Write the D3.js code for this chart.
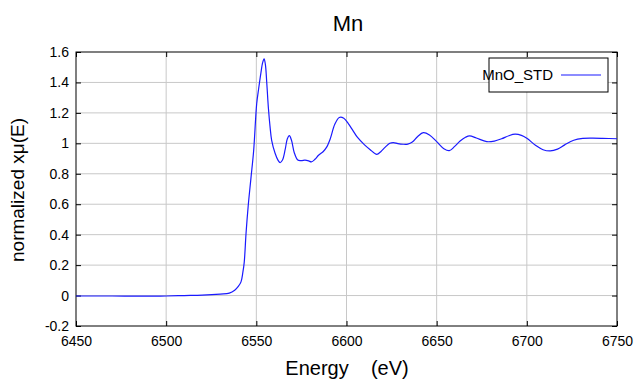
<html>
<head>
<meta charset="utf-8">
<script src="https://d3js.org/d3.v7.min.js"></script>
<style>
  body { margin: 0; background: #fff; }
  text { font-family: "Liberation Sans", Arial, sans-serif; fill: #000; }
</style>
</head>
<body>
<svg width="640" height="384"></svg>
<script>
// spectrum
var energy = [6450, 6470, 6490, 6500, 6510, 6520, 6530, 6535, 6538, 6540, 6541.5, 6542.5, 6543.3, 6544.3,
  6545.5, 6547, 6548.5, 6550.2, 6551.3, 6552.5, 6553.5, 6554.3, 6555, 6555.8, 6556.7, 6557.6, 6558.5, 6560.4,
  6562, 6563.2, 6564.5, 6566, 6567.2, 6568.3, 6569.5, 6571, 6573, 6575, 6577, 6579, 6580.5, 6582.5, 6584.5,
  6587, 6589, 6591, 6593.5, 6596, 6598.5, 6601, 6603.5, 6606, 6610, 6613, 6616.8, 6619, 6621.5, 6624, 6626,
  6628.5, 6631.5, 6634, 6636.5, 6639.5, 6642.6, 6646, 6650, 6654, 6657, 6660, 6663, 6666, 6668.3, 6672,
  6677.8, 6682, 6686, 6690, 6693.5, 6697, 6700, 6705, 6709, 6713, 6717, 6721, 6726, 6731, 6736, 6742, 6750];
var muE = [-0.003, -0.003, -0.004, -0.003, 0.0, 0.003, 0.01, 0.016, 0.035, 0.06, 0.09, 0.15, 0.22, 0.41,
  0.59, 0.77, 0.95, 1.26, 1.36, 1.46, 1.53, 1.555, 1.52, 1.395, 1.23, 1.11, 1.02, 0.935,
  0.89, 0.873, 0.89, 0.96, 1.03, 1.05, 1.02, 0.94, 0.89, 0.887, 0.89, 0.885, 0.878, 0.895, 0.922,
  0.945, 0.975, 1.03, 1.125, 1.17, 1.165, 1.13, 1.085, 1.04, 0.99, 0.96, 0.928, 0.945, 0.975, 1.0, 1.005,
  0.998, 0.994, 0.995, 1.008, 1.045, 1.07, 1.055, 1.011, 0.965, 0.952, 0.98, 1.015, 1.04, 1.049, 1.035,
  1.011, 1.015, 1.03, 1.05, 1.06, 1.052, 1.033, 0.985, 0.958, 0.95, 0.962, 0.99, 1.02, 1.032, 1.034, 1.033, 1.03];
var xTicks = [6450, 6500, 6550, 6600, 6650, 6700, 6750];
var yTicks = [-0.2, 0, 0.2, 0.4, 0.6, 0.8, 1, 1.2, 1.4, 1.6];
var seriesName = "MnO_STD";

var svg = d3.select("svg");
var m = {left: 76, right: 617, top: 52, bottom: 326};
var x = d3.scaleLinear().domain([6450, 6750]).range([m.left, m.right]);
var y = d3.scaleLinear().domain([-0.2, 1.6]).range([m.bottom, m.top]);

// grid
svg.append("g").selectAll("line").data(xTicks.slice(1, -1)).enter().append("line")
  .attr("x1", function(d){return x(d)}).attr("x2", function(d){return x(d)})
  .attr("y1", m.top).attr("y2", m.bottom).attr("stroke", "#c8c8c8");
svg.append("g").selectAll("line").data(yTicks.slice(1, -1)).enter().append("line")
  .attr("y1", function(d){return y(d)}).attr("y2", function(d){return y(d)})
  .attr("x1", m.left).attr("x2", m.right).attr("stroke", "#c8c8c8");

// axes with inward ticks
var fmt = function(d){ return String(+d.toFixed(1)); };
svg.append("g").attr("transform", "translate(0," + m.bottom + ")")
  .call(d3.axisBottom(x).tickValues(xTicks).tickSize(-5).tickPadding(10).tickFormat(d3.format("d")));
svg.append("g").attr("transform", "translate(0," + m.top + ")")
  .call(d3.axisTop(x).tickValues(xTicks).tickSize(-5).tickFormat(""));
svg.append("g").attr("transform", "translate(" + m.left + ",0)")
  .call(d3.axisLeft(y).tickValues(yTicks).tickSize(-5).tickPadding(7).tickFormat(fmt));
svg.append("g").attr("transform", "translate(" + m.right + ",0)")
  .call(d3.axisRight(y).tickValues(yTicks).tickSize(-5).tickFormat(""));
svg.selectAll(".domain").remove();
svg.selectAll(".tick line").attr("stroke", "#000");
svg.selectAll(".tick text").attr("font-size", 14).attr("font-family", "Liberation Sans, Arial, sans-serif").attr("fill", "#000");

svg.append("rect").attr("x", m.left).attr("y", m.top).attr("width", m.right - m.left).attr("height", m.bottom - m.top)
  .attr("fill", "none").attr("stroke", "#000");

// curve
var pts = energy.map(function(e, i){ return [e, muE[i]]; });
svg.append("path").datum(pts)
  .attr("fill", "none").attr("stroke", "#1a1aff").attr("stroke-width", 1.2)
  .attr("d", d3.line().x(function(d){return x(d[0])}).y(function(d){return y(d[1])}).curve(d3.curveCatmullRom.alpha(0.5)));

// legend
svg.append("rect").attr("x", 489).attr("y", 58).attr("width", 119).attr("height", 34)
  .attr("fill", "#fff").attr("stroke", "#000");
svg.append("text").attr("x", 553).attr("y", 80).attr("text-anchor", "end").attr("font-size", 15).text(seriesName);
svg.append("line").attr("x1", 561).attr("x2", 601).attr("y1", 75).attr("y2", 75).attr("stroke", "#1a1aff").attr("stroke-width", 1.2);

// titles
svg.append("text").attr("x", 348).attr("y", 31).attr("text-anchor", "middle").attr("font-size", 22).text("Mn");
svg.append("text").attr("x", 347).attr("y", 375).attr("text-anchor", "middle").attr("font-size", 20)
  .style("white-space", "pre").text("Energy    (eV)");
svg.append("text").attr("transform", "translate(24,190) rotate(-90)").attr("text-anchor", "middle")
  .attr("font-size", 19).text("normalized xμ(E)");
</script>
</body>
</html>
